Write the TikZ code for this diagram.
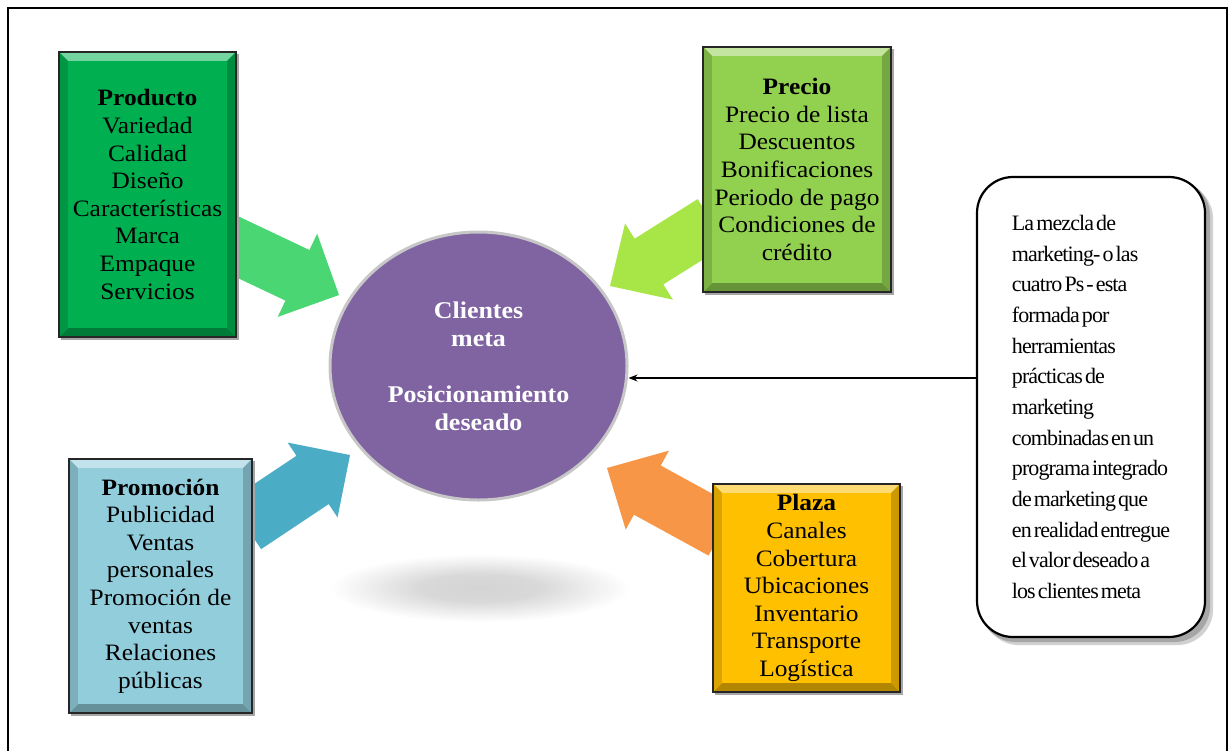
\documentclass[tikz,border=0pt]{standalone}
\usepackage{fontspec}
\setmainfont{Liberation Serif}
\newfontfamily\boxfont{Liberation Serif}[FakeStretch=1.08]
\newfontfamily\notefont{Liberation Serif}[LetterSpace=-4,WordSpace=0.45]
\usetikzlibrary{calc,backgrounds,shapes.geometric,arrows.meta}

\definecolor{prodgreen}{RGB}{0,176,80}
\definecolor{preciogreen}{RGB}{146,208,80}
\definecolor{promoblue}{RGB}{146,205,220}
\definecolor{plazagold}{RGB}{255,192,0}
\definecolor{circpurple}{RGB}{128,100,162}
\definecolor{arrgreen}{RGB}{74,214,114}
\definecolor{arrlime}{RGB}{168,230,72}
\definecolor{arrblue}{RGB}{75,172,198}
\definecolor{arrorange}{RGB}{247,150,70}

\pgfdeclarelayer{back}
\pgfsetlayers{back,background,main}

\pgfdeclareradialshading{softshadow}{\pgfpoint{0bp}{0bp}}{%
  color(0bp)=(black!17); color(10bp)=(black!15); color(25bp)=(white); color(50bp)=(white)}

% block arrow: name, colour, tail, tip, half shaft, half head, head length
\newcommand{\blockarrow}[7]{%
  \coordinate (#1-h) at ($(#4)!#7!(#3)$);
  \fill[#2] ($(#3)!#5!90:(#4)$) -- ($(#1-h)!#5!90:(#4)$) -- ($(#1-h)!#6!90:(#4)$)
    -- (#4) -- ($(#1-h)!#6!-90:(#4)$) -- ($(#1-h)!#5!-90:(#4)$)
    -- ($(#3)!#5!-90:(#4)$) -- cycle;}

% bevelled fill behind a named box node
\newcommand{\bevel}[2]{%
  \begin{scope}[on background layer]
    \fill[black!35] ($(#1.north west)+(2,2)$) rectangle ($(#1.south east)+(3,3)$);
    \fill[#2] (#1.north west) rectangle (#1.south east);
    \fill[#2!55!white] (#1.north west) -- (#1.north east) -- ($(#1.north east)+(-9,9)$) -- ($(#1.north west)+(9,9)$) -- cycle;
    \fill[#2!70!black] (#1.south west) -- (#1.south east) -- ($(#1.south east)+(-9,-9)$) -- ($(#1.south west)+(9,-9)$) -- cycle;
    \fill[#2!85!black] (#1.north west) -- ($(#1.north west)+(9,9)$) -- ($(#1.south west)+(9,-9)$) -- (#1.south west) -- cycle;
    \fill[#2!80!black] (#1.north east) -- ($(#1.north east)+(-9,9)$) -- ($(#1.south east)+(-9,-9)$) -- (#1.south east) -- cycle;
    \draw[line width=2.5pt, black!85] (#1.north west) rectangle (#1.south east);
  \end{scope}}

\tikzset{
  pbox/.style={inner sep=0pt, align=center, font=\boxfont\fontsize{23.5}{27.6}\selectfont},
  hub/.style={ellipse, inner sep=0pt, fill=circpurple, draw=black!22, line width=3pt,
    text=white, align=center, font=\boxfont\bfseries\fontsize{24}{28}\selectfont},
  notebox/.style={draw, line width=2.2pt, rounded corners=36pt, fill=white, inner sep=0pt,
    align=left, font=\notefont\fontsize{22}{30.67}\selectfont},
  pointer/.style={-{Stealth[length=9pt,width=7pt]}, line width=1.3pt}
}

\begin{document}
\begin{tikzpicture}[x=1pt,y=-1pt]
\useasboundingbox (0,0) rectangle (1230,750);

% page, block arrows pointing at the hub, and the hub's floor shadow
\begin{pgfonlayer}{back}
  \fill[white] (0,0) rectangle (1230,750);
  \coordinate (prodtail) at (225,241);   \coordinate (prodtip) at (339,295);
  \coordinate (preciotail) at (712,222); \coordinate (preciotip) at (610,286);
  \coordinate (promotail) at (245,525);  \coordinate (promotip) at (350,455);
  \coordinate (plazatail) at (722,531);  \coordinate (plazatip) at (607,468);
  \blockarrow{a1}{arrgreen}{prodtail}{prodtip}{28pt}{46pt}{46pt}
  \blockarrow{a2}{arrlime}{preciotail}{preciotip}{27pt}{45pt}{46pt}
  \blockarrow{a3}{arrblue}{promotail}{promotip}{29pt}{45pt}{45pt}
  \blockarrow{a4}{arrorange}{plazatail}{plazatip}{28pt}{45pt}{46pt}
  \shade[shading=softshadow] (480,588) ellipse [x radius=150, y radius=34];
\end{pgfonlayer}
\draw[line width=2pt] (8,752) -- (8,8) -- (1227,8) -- (1227,752);

% the four Ps
\node[pbox, minimum width=177pt, minimum height=285pt] (prod) at (147.5,194.5)
  {\textbf{Producto}\\Variedad\\Calidad\\Diseño\\Características\\Marca\\Empaque\\Servicios};
\bevel{prod}{prodgreen}
\node[pbox, minimum width=188pt, minimum height=245pt] (precio) at (797,169.5)
  {\textbf{Precio}\\Precio de lista\\Descuentos\\Bonificaciones\\Periodo de pago\\Condiciones de\\crédito};
\bevel{precio}{preciogreen}
\node[pbox, minimum width=183pt, minimum height=254pt] (promo) at (160.5,586)
  {\textbf{Promoción}\\Publicidad\\Ventas\\personales\\Promoción de\\ventas\\Relaciones\\públicas};
\bevel{promo}{promoblue}
\node[pbox, minimum width=187pt, minimum height=208pt] (plaza) at (806.5,588)
  {\textbf{Plaza}\\Canales\\Cobertura\\Ubicaciones\\Inventario\\Transporte\\Logística};
\bevel{plaza}{plazagold}

% hub
\node[hub, minimum width=297pt, minimum height=268pt] (circ) at (478.5,366)
  {Clientes\\meta\\[28pt]Posicionamiento\\deseado};

% explanatory note
\node[notebox, minimum width=228pt, minimum height=460pt] (note) at (1091,407)
  {La mezcla de\\marketing- o las\\cuatro Ps - esta\\formada por\\herramientas\\prácticas de\\marketing\\combinadas en un\\programa integrado\\de marketing que\\en realidad entregue\\el valor deseado a\\los clientes meta};
\begin{scope}[on background layer]
  \fill[black!18, rounded corners=36pt] ($(note.north west)+(7,7)$) rectangle ($(note.south east)+(7,7)$);
  \fill[black!35, rounded corners=36pt] ($(note.north west)+(4,4)$) rectangle ($(note.south east)+(4,4)$);
\end{scope}

\coordinate (notept) at ($(note.west)+(0,-29)$);
\draw[pointer] (notept) -- (notept -| circ.east);
\end{tikzpicture}
\end{document}
